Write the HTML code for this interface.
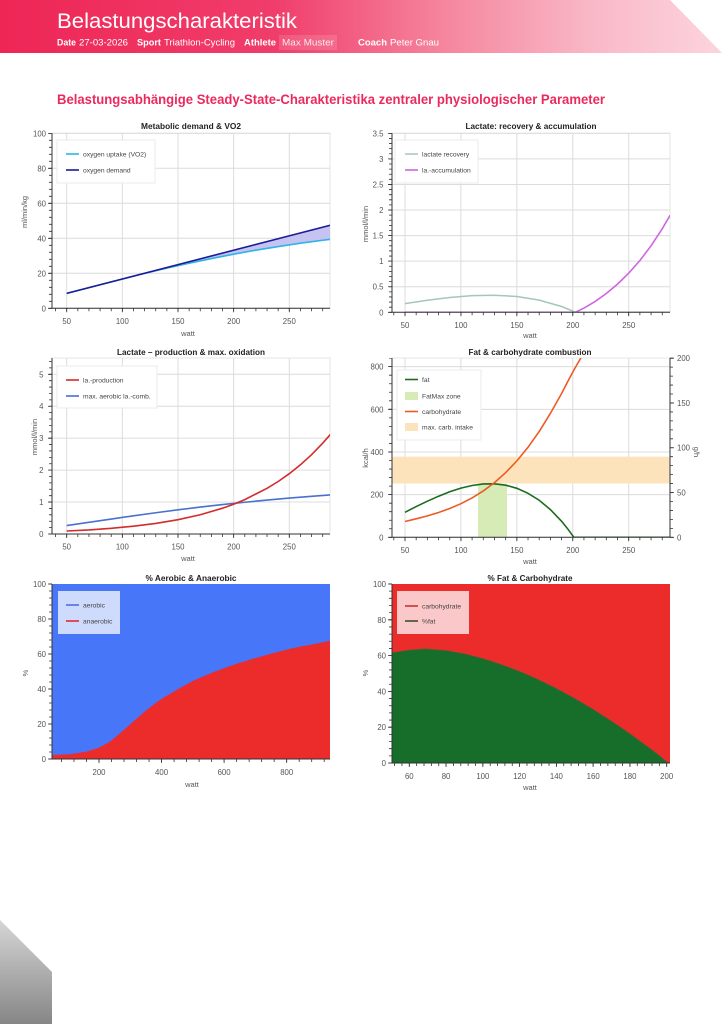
<!DOCTYPE html>
<html><head><meta charset="utf-8"><style>
html,body{margin:0;padding:0;background:#fff;width:722px;height:1024px;overflow:hidden}
svg{display:block}
.tl{font-size:7.8px;fill:#555}
.ax{font-size:7.5px;fill:#555}
.lg{font-size:6.7px;fill:#444}
.tt{font-size:8.6px;font-weight:bold;fill:#222}
</style></head><body>
<svg width="722" height="1024" viewBox="0 0 722 1024" font-family="'Liberation Sans', Arial, sans-serif">
<defs>
<linearGradient id="hdr" x1="0" y1="0" x2="722" y2="0" gradientUnits="userSpaceOnUse">
<stop offset="0" stop-color="#ee2656"/><stop offset="0.38" stop-color="#f03d6a"/><stop offset="0.62" stop-color="#f5879f"/><stop offset="0.82" stop-color="#f9b8c7"/><stop offset="1" stop-color="#fcd4de"/>
</linearGradient>
<linearGradient id="gry" x1="0" y1="920" x2="0" y2="1024" gradientUnits="userSpaceOnUse">
<stop offset="0" stop-color="#d6d6d6"/><stop offset="1" stop-color="#868686"/>
</linearGradient>
<clipPath id="k1"><rect x="52" y="133.3" width="278" height="175"/></clipPath>
<clipPath id="k2"><rect x="392" y="133.3" width="278" height="179"/></clipPath>
<clipPath id="k3"><rect x="52" y="358" width="278" height="176"/></clipPath>
<clipPath id="k4"><rect x="392" y="358" width="278" height="179.3"/></clipPath>
</defs>

<!-- header -->
<polygon points="0,0 670,0 722,53 0,53" fill="url(#hdr)"/>
<text x="57" y="28" font-size="21" fill="#fff" textLength="240" lengthAdjust="spacingAndGlyphs">Belastungscharakteristik</text>
<rect x="279" y="35" width="58" height="15" fill="#fff" fill-opacity="0.13"/>
<g font-size="9.5" fill="#fff">
<text x="57" y="45.5" font-weight="bold" textLength="19" lengthAdjust="spacingAndGlyphs">Date</text>
<text x="79" y="45.5" textLength="49" lengthAdjust="spacingAndGlyphs">27-03-2026</text>
<text x="137" y="45.5" font-weight="bold" textLength="24" lengthAdjust="spacingAndGlyphs">Sport</text>
<text x="164" y="45.5" textLength="71" lengthAdjust="spacingAndGlyphs">Triathlon-Cycling</text>
<text x="244" y="45.5" font-weight="bold" textLength="32" lengthAdjust="spacingAndGlyphs">Athlete</text>
<text x="282" y="45.5" fill-opacity="0.85" textLength="52" lengthAdjust="spacingAndGlyphs">Max Muster</text>
<text x="358" y="45.5" font-weight="bold" textLength="29" lengthAdjust="spacingAndGlyphs">Coach</text>
<text x="390" y="45.5" textLength="49" lengthAdjust="spacingAndGlyphs">Peter Gnau</text>
</g>
<text x="57" y="104" font-size="14" font-weight="bold" fill="#ea2a5e" textLength="548" lengthAdjust="spacingAndGlyphs">Belastungsabhängige Steady-State-Charakteristika zentraler physiologischer Parameter</text>

<!-- ============ C1 ============ -->
<text class="tt" x="191" y="129" text-anchor="middle" textLength="100" lengthAdjust="spacingAndGlyphs">Metabolic demand &amp; VO2</text>
<rect x="52" y="133.3" width="278" height="175" fill="#fff" stroke="#e5e5e5"/>
<path d="M66.7 133.3V308.3M122.35 133.3V308.3M178 133.3V308.3M233.65 133.3V308.3M289.3 133.3V308.3M52 273.3H330M52 238.3H330M52 203.3H330M52 168.3H330M52 133.3H330" stroke="#dcdcdc" fill="none"/>
<g clip-path="url(#k1)">
<polygon points="66.7,293.4 330.5,225.2 330.5,239.2 300.4,243.2 278.2,246.6 255.9,250.2 233.65,254.2 211.4,258.55 189.1,263.2 166.9,268.15 144.6,273.4 122.35,279.0" fill="#c6c3f2"/>
<polyline points="66.7,293.4 122.35,279.0 144.6,273.4 166.9,268.15 189.1,263.2 211.4,258.55 233.65,254.2 255.9,250.2 278.2,246.6 300.4,243.2 330.5,239.2" fill="none" stroke="#2eb4e6" stroke-width="1.6"/>
<line x1="66.7" y1="293.4" x2="330.5" y2="225.2" stroke="#1c1c96" stroke-width="1.6"/>
</g>
<path d="M52 133.3V308.3H330" stroke="#333" fill="none"/>
<g stroke="#333">
<line x1="55.17" y1="309.8" x2="330" y2="309.8" stroke-width="3" stroke-dasharray="0.8 10.33"/>
<line x1="66.3" y1="310.3" x2="330" y2="310.3" stroke-width="4" stroke-dasharray="0.8 54.85"/>
<line x1="50.5" y1="308.7" x2="50.5" y2="133" stroke-width="3" stroke-dasharray="0.8 6.2"/>
<line x1="50" y1="308.7" x2="50" y2="133" stroke-width="4" stroke-dasharray="0.8 34.2"/>
</g>
<g class="tl" text-anchor="end">
<text x="46" y="311.3">0</text><text x="46" y="276.3">20</text><text x="46" y="241.3">40</text><text x="46" y="206.3">60</text><text x="46" y="171.3">80</text><text x="46" y="136.3">100</text>
</g>
<g class="tl" text-anchor="middle">
<text x="66.7" y="324">50</text><text x="122.35" y="324">100</text><text x="178" y="324">150</text><text x="233.65" y="324">200</text><text x="289.3" y="324">250</text>
</g>
<text class="ax" x="188" y="336" text-anchor="middle">watt</text>
<text class="ax" transform="translate(27,212) rotate(-90)" text-anchor="middle">ml/min/kg</text>
<rect x="57" y="140" width="98" height="43" fill="#fff" fill-opacity="0.96" stroke="#ebebeb"/>
<line x1="66" y1="154" x2="79" y2="154" stroke="#2eb4e6" stroke-width="1.6"/>
<text class="lg" x="83" y="156.4">oxygen uptake (VO2)</text>
<line x1="66" y1="170" x2="79" y2="170" stroke="#1c1c96" stroke-width="1.6"/>
<text class="lg" x="83" y="172.4">oxygen demand</text>

<!-- ============ C2 ============ -->
<text class="tt" x="531" y="129" text-anchor="middle" textLength="131" lengthAdjust="spacingAndGlyphs">Lactate: recovery &amp; accumulation</text>
<rect x="392" y="133.3" width="278" height="179" fill="#fff" stroke="#e5e5e5"/>
<path d="M405 133.3V312.3M460.9 133.3V312.3M516.9 133.3V312.3M572.8 133.3V312.3M628.7 133.3V312.3M392 286.73H670M392 261.16H670M392 235.59H670M392 210.02H670M392 184.45H670M392 158.88H670M392 133.3H670" stroke="#dcdcdc" fill="none"/>
<g clip-path="url(#k2)">
<polyline points="405,303.6 427.4,300.2 449.7,297.5 472.1,295.6 494.5,295.2 516.9,296.5 539.2,300.1 561.6,306.5 572.8,311.0 575.3,312.3 670,312.3" fill="none" stroke="#a6c6b8" stroke-width="1.5"/>
<polyline points="405,312.3 575.3,312.3 584.0,308.1 595.2,301.4 606.3,293.5 617.5,284.1 628.7,273.2 639.9,260.5 651.1,245.7 662.3,228.7 670.1,215.3" fill="none" stroke="#cf66e0" stroke-width="1.6"/>
</g>
<path d="M392 133.3V312.3H670" stroke="#333" fill="none"/>
<g stroke="#333">
<line x1="393.4" y1="313.8" x2="670" y2="313.8" stroke-width="3" stroke-dasharray="0.8 10.385"/>
<line x1="404.6" y1="314.3" x2="670" y2="314.3" stroke-width="4" stroke-dasharray="0.8 55.125"/>
<line x1="390.5" y1="312.7" x2="390.5" y2="133" stroke-width="3" stroke-dasharray="0.8 4.314"/>
<line x1="390" y1="312.7" x2="390" y2="133" stroke-width="4" stroke-dasharray="0.8 24.77"/>
</g>
<g class="tl" text-anchor="end">
<text x="383.5" y="315.3">0</text><text x="383.5" y="289.7">0.5</text><text x="383.5" y="264.2">1</text><text x="383.5" y="238.6">1.5</text><text x="383.5" y="213">2</text><text x="383.5" y="187.5">2.5</text><text x="383.5" y="161.9">3</text><text x="383.5" y="136.3">3.5</text>
</g>
<g class="tl" text-anchor="middle">
<text x="405" y="328">50</text><text x="460.9" y="328">100</text><text x="516.9" y="328">150</text><text x="572.8" y="328">200</text><text x="628.7" y="328">250</text>
</g>
<text class="ax" x="530" y="338" text-anchor="middle">watt</text>
<text class="ax" transform="translate(368,224) rotate(-90)" text-anchor="middle">mmol/l/min</text>
<rect x="395" y="140" width="83" height="43" fill="#fff" fill-opacity="0.96" stroke="#ebebeb"/>
<line x1="405" y1="154" x2="418" y2="154" stroke="#a6c6b8" stroke-width="1.5"/>
<text class="lg" x="422" y="156.4">lactate recovery</text>
<line x1="405" y1="170" x2="418" y2="170" stroke="#cf66e0" stroke-width="1.6"/>
<text class="lg" x="422" y="172.4">la.-accumulation</text>

<!-- ============ C3 ============ -->
<text class="tt" x="191" y="355" text-anchor="middle" textLength="148" lengthAdjust="spacingAndGlyphs">Lactate – production &amp; max. oxidation</text>
<rect x="52" y="358" width="278" height="176" fill="#fff" stroke="#e5e5e5"/>
<path d="M66.7 358V534M122.35 358V534M178 358V534M233.65 358V534M289.3 358V534M52 502.06H330M52 470.12H330M52 438.18H330M52 406.24H330M52 374.3H330" stroke="#dcdcdc" fill="none"/>
<g clip-path="url(#k3)">
<polyline points="66.7,525.6 88.96,522.3 111.22,519.1 133.48,515.8 155.74,512.75 178.0,509.85 200.26,507.1 222.52,504.6 244.78,502.25 267.04,500.1 289.3,498.1 311.56,496.3 330.5,494.9" fill="none" stroke="#4a70d0" stroke-width="1.6"/>
<polyline points="66.7,531.0 88.96,529.9 111.22,528.3 133.48,526.2 155.74,523.4 178.0,519.7 200.26,514.75 222.52,508.2 233.65,504.2 244.78,499.6 267.04,488.3 278.17,481.5 289.3,473.7 300.43,464.8 311.56,454.7 322.69,443.2 330.5,434.3" fill="none" stroke="#d42b2b" stroke-width="1.6"/>
</g>
<path d="M52 358V534H330" stroke="#333" fill="none"/>
<g stroke="#333">
<line x1="55.17" y1="535.5" x2="330" y2="535.5" stroke-width="3" stroke-dasharray="0.8 10.33"/>
<line x1="66.3" y1="536" x2="330" y2="536" stroke-width="4" stroke-dasharray="0.8 54.85"/>
<line x1="50.5" y1="534.4" x2="50.5" y2="358" stroke-width="3" stroke-dasharray="0.8 5.588"/>
<line x1="50" y1="534.4" x2="50" y2="358" stroke-width="4" stroke-dasharray="0.8 31.14"/>
</g>
<g class="tl" text-anchor="end">
<text x="43.5" y="537">0</text><text x="43.5" y="505.06">1</text><text x="43.5" y="473.12">2</text><text x="43.5" y="441.18">3</text><text x="43.5" y="409.24">4</text><text x="43.5" y="377.3">5</text>
</g>
<g class="tl" text-anchor="middle">
<text x="66.7" y="549.5">50</text><text x="122.35" y="549.5">100</text><text x="178" y="549.5">150</text><text x="233.65" y="549.5">200</text><text x="289.3" y="549.5">250</text>
</g>
<text class="ax" x="188" y="561" text-anchor="middle">watt</text>
<text class="ax" transform="translate(37,437) rotate(-90)" text-anchor="middle">mmol/l/min</text>
<rect x="57" y="366" width="100" height="42" fill="#fff" fill-opacity="0.96" stroke="#ebebeb"/>
<line x1="66" y1="380" x2="79" y2="380" stroke="#d42b2b" stroke-width="1.6"/>
<text class="lg" x="83" y="382.4">la.-production</text>
<line x1="66" y1="396" x2="79" y2="396" stroke="#4a70d0" stroke-width="1.6"/>
<text class="lg" x="83" y="398.4">max. aerobic la.-comb.</text>

<!-- ============ C4 ============ -->
<text class="tt" x="530" y="355" text-anchor="middle" textLength="123" lengthAdjust="spacingAndGlyphs">Fat &amp; carbohydrate combustion</text>
<rect x="392" y="358" width="278" height="179.3" fill="#fff" stroke="#e5e5e5"/>
<path d="M405 358V537.3M460.9 358V537.3M516.9 358V537.3M572.8 358V537.3M628.7 358V537.3M392 494.64H670M392 451.98H670M392 409.32H670M392 366.66H670" stroke="#dcdcdc" fill="none"/>
<g clip-path="url(#k4)">
<rect x="392" y="456.7" width="278" height="26.8" fill="#fde3bc"/>
<rect x="478" y="484" width="29" height="53.3" fill="#d7ebb6"/>
<polyline points="405,512.3 416.2,506.55 427.4,501.2 438.6,496.2 449.7,491.7 460.9,488.1 472.1,485.5 483.3,483.95 494.5,483.85 505.7,485.2 516.9,488.3 528.0,493.3 539.2,500.25 550.4,509.6 561.6,521.3 567.2,528.2 573.9,537.3 670,537.3" fill="none" stroke="#1d6b1d" stroke-width="1.6"/>
<polyline points="405,521.5 416.2,518.8 427.4,515.9 438.6,512.5 449.7,508.5 460.9,503.7 472.1,497.9 483.3,490.95 494.5,482.6 505.7,472.6 516.9,460.9 528.0,447.3 539.2,431.5 550.4,413.35 561.6,393.5 567.2,382.6 573.9,370.0 580.5,358.5 586,349" fill="none" stroke="#ec5b24" stroke-width="1.6"/>
</g>
<path d="M392 358V537.3H670V358" stroke="#333" fill="none"/>
<g stroke="#333">
<line x1="393.4" y1="538.8" x2="670" y2="538.8" stroke-width="3" stroke-dasharray="0.8 10.385"/>
<line x1="404.6" y1="539.3" x2="670" y2="539.3" stroke-width="4" stroke-dasharray="0.8 55.125"/>
<line x1="390.5" y1="537.7" x2="390.5" y2="358" stroke-width="3" stroke-dasharray="0.8 7.732"/>
<line x1="390" y1="537.7" x2="390" y2="358" stroke-width="4" stroke-dasharray="0.8 41.86"/>
<line x1="671.5" y1="537.7" x2="671.5" y2="357.5" stroke-width="3" stroke-dasharray="0.8 8.155"/>
<line x1="672" y1="537.7" x2="672" y2="357.5" stroke-width="4" stroke-dasharray="0.8 43.98"/>
</g>
<g class="tl" text-anchor="end">
<text x="383.5" y="540.3">0</text><text x="383.5" y="497.6">200</text><text x="383.5" y="455">400</text><text x="383.5" y="412.3">600</text><text x="383.5" y="369.7">800</text>
</g>
<g class="tl">
<text x="677" y="540.3">0</text><text x="677" y="495.5">50</text><text x="677" y="450.7">100</text><text x="677" y="406">150</text><text x="677" y="361.2">200</text>
</g>
<g class="tl" text-anchor="middle">
<text x="405" y="553">50</text><text x="460.9" y="553">100</text><text x="516.9" y="553">150</text><text x="572.8" y="553">200</text><text x="628.7" y="553">250</text>
</g>
<text class="ax" x="530" y="564" text-anchor="middle">watt</text>
<text class="ax" transform="translate(368,458) rotate(-90)" text-anchor="middle">kcal/h</text>
<text class="ax" transform="translate(694,452) rotate(90)" text-anchor="middle">g/h</text>
<rect x="397" y="370" width="84" height="70" fill="#fff" fill-opacity="0.96" stroke="#ebebeb"/>
<line x1="405" y1="379.5" x2="418" y2="379.5" stroke="#1d6b1d" stroke-width="1.6"/>
<text class="lg" x="422" y="381.9">fat</text>
<rect x="405" y="392" width="13" height="8" fill="#d7ebb6"/>
<text class="lg" x="422" y="398.4">FatMax zone</text>
<line x1="405" y1="411.5" x2="418" y2="411.5" stroke="#ec5b24" stroke-width="1.6"/>
<text class="lg" x="422" y="413.9">carbohydrate</text>
<rect x="405" y="423" width="13" height="8" fill="#fde3bc"/>
<text class="lg" x="422" y="429.4">max. carb. intake</text>

<!-- ============ C5 ============ -->
<text class="tt" x="191" y="581" text-anchor="middle" textLength="91" lengthAdjust="spacingAndGlyphs">% Aerobic &amp; Anaerobic</text>
<rect x="52" y="584" width="278" height="175" fill="#4876f8"/>
<polygon points="52,759 52,755.0 69.9,754.3 86.5,751.65 99,747.6 109.9,741.7 120.0,733.3 133.4,721.55 146.5,710 160.0,699.85 176.6,689.9 193.2,680.8 213.2,672.2 233.2,664.85 253.2,658.7 273.2,653.1 293.2,648.05 313.3,644.2 330,640.7 330,759" fill="#ec2b2b"/>
<path d="M52 584V759H330" stroke="#333" fill="none"/>
<g stroke="#333">
<line x1="61.06" y1="760.5" x2="330" y2="760.5" stroke-width="3" stroke-dasharray="0.8 11.712"/>
<line x1="98.6" y1="761" x2="330" y2="761" stroke-width="4" stroke-dasharray="0.8 61.76"/>
<line x1="50.5" y1="759.4" x2="50.5" y2="583.5" stroke-width="3" stroke-dasharray="0.8 6.2"/>
<line x1="50" y1="759.4" x2="50" y2="583.5" stroke-width="4" stroke-dasharray="0.8 34.2"/>
</g>
<g class="tl" text-anchor="end">
<text x="46" y="762">0</text><text x="46" y="727">20</text><text x="46" y="692">40</text><text x="46" y="657">60</text><text x="46" y="622">80</text><text x="46" y="587">100</text>
</g>
<g class="tl" text-anchor="middle">
<text x="99" y="775">200</text><text x="161.56" y="775">400</text><text x="224.1" y="775">600</text><text x="286.7" y="775">800</text>
</g>
<text class="ax" x="192" y="787" text-anchor="middle">watt</text>
<text class="ax" transform="translate(28,673) rotate(-90)" text-anchor="middle">%</text>
<rect x="58" y="591" width="62" height="43" fill="#fff" fill-opacity="0.74"/>
<line x1="66" y1="605" x2="79" y2="605" stroke="#4a6fe8" stroke-width="1.6"/>
<text class="lg" x="83" y="607.4">aerobic</text>
<line x1="66" y1="621" x2="79" y2="621" stroke="#e02c2c" stroke-width="1.6"/>
<text class="lg" x="83" y="623.4">anaerobic</text>

<!-- ============ C6 ============ -->
<text class="tt" x="530" y="581" text-anchor="middle" textLength="85" lengthAdjust="spacingAndGlyphs">% Fat &amp; Carbohydrate</text>
<rect x="392" y="584" width="278" height="179" fill="#ec2b2b"/>
<polygon points="392,763 392,652.7 409.3,650.0 425.8,648.8 446.1,650.5 464.5,653.8 482.8,658.5 501.2,664.4 519.6,671.4 538.0,679.4 556.4,688.5 574.7,698.4 593.1,709.3 611.5,721.1 629.9,733.6 648.2,747.1 657.4,754.0 668.4,763" fill="#176e2a" stroke="#6a5a3a" stroke-opacity="0.5" stroke-width="0.8"/>
<path d="M392 584V763H670" stroke="#333" fill="none"/>
<g stroke="#333">
<line x1="394.2" y1="764.5" x2="670" y2="764.5" stroke-width="3" stroke-dasharray="0.8 6.554"/>
<line x1="408.9" y1="765" x2="670" y2="765" stroke-width="4" stroke-dasharray="0.8 35.97"/>
<line x1="390.5" y1="763.4" x2="390.5" y2="583.5" stroke-width="3" stroke-dasharray="0.8 6.36"/>
<line x1="390" y1="763.4" x2="390" y2="583.5" stroke-width="4" stroke-dasharray="0.8 35"/>
</g>
<g class="tl" text-anchor="end">
<text x="386" y="766">0</text><text x="386" y="730.2">20</text><text x="386" y="694.4">40</text><text x="386" y="658.6">60</text><text x="386" y="622.8">80</text><text x="386" y="587">100</text>
</g>
<g class="tl" text-anchor="middle">
<text x="409.3" y="779">60</text><text x="446.07" y="779">80</text><text x="482.84" y="779">100</text><text x="519.61" y="779">120</text><text x="556.38" y="779">140</text><text x="593.15" y="779">160</text><text x="629.92" y="779">180</text><text x="666.69" y="779">200</text>
</g>
<text class="ax" x="530" y="790" text-anchor="middle">watt</text>
<text class="ax" transform="translate(368,673) rotate(-90)" text-anchor="middle">%</text>
<rect x="397" y="591" width="72" height="43" fill="#fff" fill-opacity="0.74"/>
<line x1="405" y1="606" x2="418" y2="606" stroke="#c83434" stroke-width="1.6"/>
<text class="lg" x="422" y="608.4">carbohydrate</text>
<line x1="405" y1="621" x2="418" y2="621" stroke="#3f4f2a" stroke-width="1.6"/>
<text class="lg" x="422" y="623.4">%fat</text>

<!-- bottom-left decoration -->
<polygon points="0,920 52,972 52,1024 0,1024" fill="url(#gry)"/>
</svg>
</body></html>
